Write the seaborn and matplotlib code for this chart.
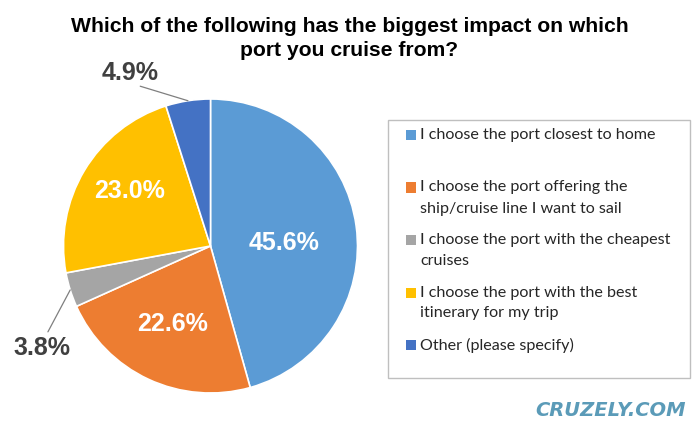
import numpy as np
import matplotlib
matplotlib.use("Agg")
import matplotlib.pyplot as plt
import seaborn as sns
from matplotlib.patches import Rectangle

sns.set_theme(style="white")
plt.rcParams['font.family'] = ['Liberation Sans', 'DejaVu Sans']

title = "Which of the following has the biggest impact on which\nport you cruise from?"
categories = [
    "I choose the port closest to home\n",
    "I choose the port offering the\nship/cruise line I want to sail",
    "I choose the port with the cheapest\ncruises",
    "I choose the port with the best\nitinerary for my trip",
    "Other (please specify)",
]
values = [45.6, 22.6, 3.8, 23.0, 4.9]
colors = ["#5B9BD5", "#ED7D31", "#A5A5A5", "#FFC000", "#4472C4"]
watermark = "CRUZELY.COM"

W, H = 699, 437
fig = plt.figure(figsize=(W / 100, H / 100), dpi=100)
fig.patch.set_facecolor("white")

# pie axes: centre (210.5, 246) px, radius 147 px
R = 147
cx, cy = 210.5, 246
ax = fig.add_axes([(cx - R) / W, (H - cy - R) / H, 2 * R / W, 2 * R / H])

wedges, _ = ax.pie(values, colors=colors, startangle=90, counterclock=False,
                   radius=1.0, wedgeprops=dict(edgecolor="white", linewidth=1.2))
ax.set_xlim(-1, 1)
ax.set_ylim(-1, 1)
ax.set_aspect("equal")
ax.axis("off")

# label positions (in pie radius units) and whether they sit outside the pie
label_pos = [(0.503, 0.020), (-0.259, -0.531), (-1.146, -0.694), (-0.548, 0.374), (-0.548, 1.177)]
label_out = [False, False, True, False, True]
for w, v, (tx, ty), out in zip(wedges, values, label_pos, label_out):
    lab = f"{v:.1f}%"
    ax.text(tx, ty, lab, ha="center", va="center",
            color="#404040" if out else "white", fontsize=18, fontweight="bold")
    if out:
        mid = np.deg2rad((w.theta1 + w.theta2) / 2)
        sx, sy = np.cos(mid), np.sin(mid)
        ex = tx + (0.04 if ty < 0 else 0.07)
        ey = ty + (0.11 if ty < 0 else -0.09)
        ax.plot([sx, ex], [sy, ey], color="#7f7f7f", lw=0.9, clip_on=False)

fig.text(0.5, 1 - 26 / H, title.split("\n")[0], ha="center", va="center",
         fontsize=15.2, fontweight="bold", color="black",
         family=['Liberation Sans Narrow', 'Liberation Sans'])
fig.text(0.5, 1 - 50 / H, title.split("\n")[1], ha="center", va="center",
         fontsize=15.2, fontweight="bold", color="black",
         family=['Liberation Sans Narrow', 'Liberation Sans'])

# legend box
fig.patches.append(Rectangle((388 / W, 1 - 378 / H), (690 - 388) / W, (378 - 120) / H,
                             transform=fig.transFigure, facecolor="none",
                             edgecolor="#BFBFBF", linewidth=1.0))
y = 135.0
for lab, c in zip(categories, colors):
    lines = lab.split("\n")
    fig.patches.append(Rectangle((406 / W, 1 - (y + 5) / H), 10 / W, 10 / H,
                                 transform=fig.transFigure, facecolor=c, edgecolor="none"))
    for k, ln in enumerate(lines):
        fig.text(420 / W, 1 - (y + 21 * k) / H, ln, ha="left", va="center",
                 fontsize=11.6, color="#262626", family=['Lato', 'DejaVu Sans'])
    y += len(lines) * 21 + 10.5

fig.text(611 / W, 1 - 410 / H, watermark, ha="center", va="center",
         fontsize=14, fontweight="bold", style="italic", color="#5B9BB8",
         family=['DejaVu Sans'])

fig.savefig("out.png", dpi=100)
